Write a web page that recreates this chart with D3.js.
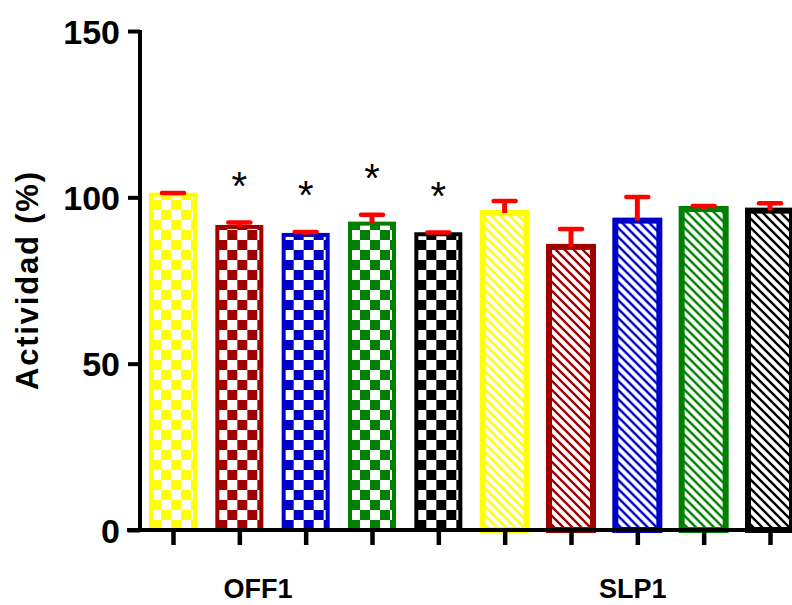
<!DOCTYPE html>
<html>
<head>
<meta charset="utf-8">
<script src="https://cdn.jsdelivr.net/npm/d3@7/dist/d3.min.js"></script>
<style>
  html, body { margin: 0; padding: 0; background: #fff; }
  svg { display: block; font-family: Arial, "Liberation Sans", sans-serif; }
</style>
</head>
<body>
<svg id="chart" width="792" height="605"></svg>
<script>
// Activity (%) of each treatment, grouped by strain
const groups = ["OFF1", "SLP1"];
const barGroup = [0, 0, 0, 0, 0, 1, 1, 1, 1, 1];
const barColors = ["#ffff00", "#a00000", "#0000c8", "#008000", "#000000",
                   "#ffff00", "#a00000", "#0000c8", "#008000", "#000000"];
const means  = [100.8, 91.1, 88.7, 92.1, 88.9, 95.3, 85.1, 93.0, 96.5, 96.0];
const errors = [0.5, 1.3, 0.9, 2.7, 0.5, 3.6, 5.4, 7.1, 0.9, 2.2];
const significant = [false, true, true, true, true, false, false, false, false, false];
const yTicks = [0, 50, 100, 150];
const yTitle = "Actividad (%)";

const svg = d3.select("#chart");
const font = 'Arial, "Liberation Sans", sans-serif';

const y = d3.scaleLinear().domain([0, 150]).range([530, 31]);
const x = d3.scaleLinear().domain([0, means.length - 1]).range([173, 770]);

// fill patterns: checkerboard for the first group, diagonal hatching for the second
const defs = svg.append("defs");
const uniqueColors = Array.from(new Set(barColors));
const hs = 9;
uniqueColors.forEach((c, k) => {
  const chk = defs.append("pattern")
    .attr("id", "chk" + k).attr("patternUnits", "userSpaceOnUse")
    .attr("width", 20).attr("height", 20);
  chk.append("rect").attr("width", 20).attr("height", 20).attr("fill", "#fff");
  chk.append("rect").attr("x", 0).attr("y", 0).attr("width", 10).attr("height", 10).attr("fill", c);
  chk.append("rect").attr("x", 10).attr("y", 10).attr("width", 10).attr("height", 10).attr("fill", c);

  const hat = defs.append("pattern")
    .attr("id", "hat" + k).attr("patternUnits", "userSpaceOnUse")
    .attr("width", hs).attr("height", hs);
  hat.append("rect").attr("width", hs).attr("height", hs).attr("fill", "#fff");
  hat.append("path")
    .attr("d", `M-2,-2 L${hs + 2},${hs + 2} M-2,${hs - 2} L2,${hs + 2} M${hs - 2},-2 L${hs + 2},2`)
    .attr("stroke", c).attr("stroke-width", 2.4).attr("fill", "none");
});

const barInner = 44;
const bars = svg.append("g").selectAll("g")
  .data(means.map((m, i) => ({ i, m, e: errors[i], c: barColors[i], g: barGroup[i] })))
  .join("g")
  .attr("transform", d => `translate(${x(d.i) - barInner / 2},0)`);

bars.append("rect")
  .attr("x", 0)
  .attr("y", d => y(d.m))
  .attr("width", barInner)
  .attr("height", d => y(0) - y(d.m))
  .attr("fill", d => `url(#${d.g === 0 ? "chk" : "hat"}${uniqueColors.indexOf(d.c)})`)
  .attr("stroke", d => d.c)
  .attr("stroke-width", d => d.g === 0 ? 4 : 6);

// upper error bars
const err = svg.append("g");
means.forEach((m, i) => {
  err.append("line")
    .attr("x1", x(i)).attr("x2", x(i))
    .attr("y1", y(m)).attr("y2", y(m + errors[i]))
    .attr("stroke", "#ff0000").attr("stroke-width", 5);
  err.append("line")
    .attr("x1", x(i) - 11).attr("x2", x(i) + 11)
    .attr("y1", y(m + errors[i])).attr("y2", y(m + errors[i]))
    .attr("stroke", "#ff0000").attr("stroke-width", 4.5)
    .attr("stroke-linecap", "round");
});

// significance marks
svg.append("g").selectAll("text")
  .data(means.map((m, i) => ({ i, top: m + errors[i] })).filter(d => significant[d.i]))
  .join("text")
  .attr("x", d => x(d.i))
  .attr("y", d => y(d.top) - 23)
  .attr("text-anchor", "middle")
  .attr("font-family", font)
  .attr("font-size", 40)
  .attr("fill", "#000")
  .text("*");

// y axis
const yAxis = svg.append("g")
  .attr("transform", "translate(140,0)")
  .call(d3.axisLeft(y).tickValues(yTicks).tickSize(12).tickSizeOuter(0).tickPadding(8));
yAxis.select(".domain").attr("stroke", "#000").attr("stroke-width", 4)
  .attr("d", `M0,${y(150) - 1}V${y(0) + 2}`);
yAxis.selectAll(".tick line").attr("stroke", "#000").attr("stroke-width", 4);
yAxis.selectAll(".tick text")
  .attr("font-family", font).attr("font-size", 34).attr("font-weight", "bold")
  .attr("fill", "#000").attr("dy", "0.36em");

// x axis
const xAxis = svg.append("g")
  .attr("transform", "translate(0,530)")
  .call(d3.axisBottom(x).tickValues(d3.range(means.length)).tickSize(15).tickSizeOuter(0).tickFormat(""));
xAxis.select(".domain").attr("stroke", "#000").attr("stroke-width", 4)
  .attr("d", "M127,0H790");
xAxis.selectAll(".tick line").attr("stroke", "#000").attr("stroke-width", 4.5);

// group labels under the axis, placed in bar-index units
const groupLabelAt = [1.28, 6.93];
svg.append("g").selectAll("text")
  .data(groups)
  .join("text")
  .attr("x", (d, k) => x(groupLabelAt[k]))
  .attr("y", 598)
  .attr("text-anchor", "middle")
  .attr("font-family", font)
  .attr("font-size", 27)
  .attr("font-weight", "bold")
  .attr("fill", "#000")
  .text(d => d);

// y axis title
svg.append("text")
  .attr("transform", "translate(38,281) rotate(-90)")
  .attr("text-anchor", "middle")
  .attr("font-family", font)
  .attr("font-size", 31)
  .attr("font-weight", "bold")
  .attr("textLength", 218)
  .attr("lengthAdjust", "spacing")
  .attr("fill", "#000")
  .text(yTitle);
</script>
</body>
</html>
